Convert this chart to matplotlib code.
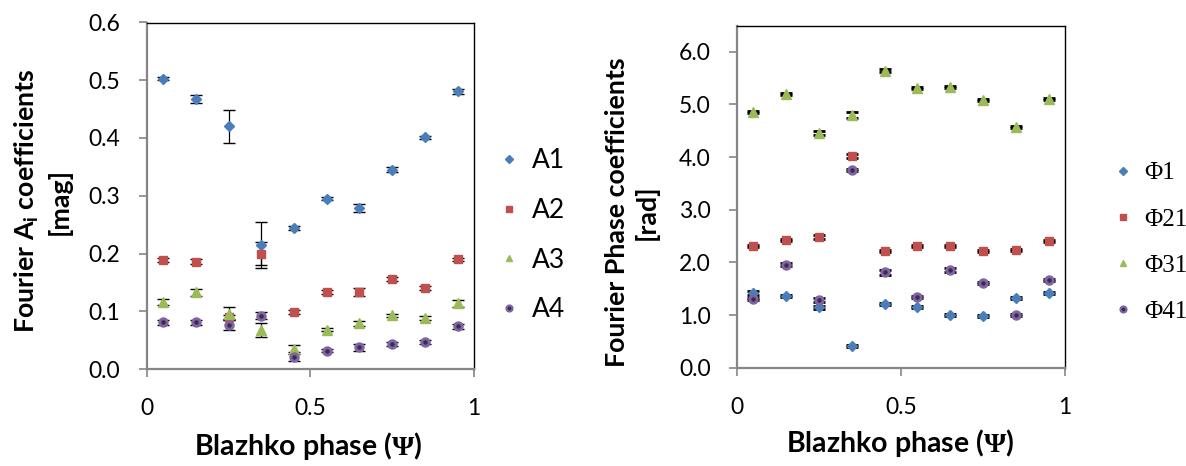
import matplotlib
matplotlib.use("Agg")
import matplotlib.pyplot as plt
import numpy as np
from matplotlib.ticker import FormatStrFormatter, FixedLocator
from matplotlib.legend_handler import HandlerTuple

plt.rcParams["font.family"] = ["Lato", "DejaVu Sans"]
plt.rcParams["mathtext.fontset"] = "custom"
plt.rcParams["mathtext.sf"] = "Lato:bold"
plt.rcParams["mathtext.bf"] = "Liberation Serif:bold"
plt.rcParams["mathtext.rm"] = "Liberation Serif"

# Blazhko phase bins
phase = [0.05, 0.15, 0.25, 0.35, 0.45, 0.55, 0.65, 0.75, 0.85, 0.95]

# Fourier amplitudes [mag] and errors
a1 = [0.503, 0.467, 0.420, 0.215, 0.244, 0.295, 0.278, 0.345, 0.401, 0.481]
a1_err = [0.003, 0.0066, 0.029, 0.040, 0.003, 0.003, 0.007, 0.004, 0.003, 0.004]
a2 = [0.189, 0.186, 0.090, 0.200, 0.099, 0.133, 0.133, 0.156, 0.140, 0.190]
a2_err = [0.003, 0.004, 0.003, 0.020, 0.004, 0.003, 0.0065, 0.003, 0.003, 0.003]
a3 = [0.116, 0.133, 0.096, 0.067, 0.035, 0.068, 0.079, 0.093, 0.088, 0.114]
a3_err = [0.0045, 0.006, 0.012, 0.012, 0.006, 0.003, 0.004, 0.003, 0.003, 0.006]
a4 = [0.081, 0.081, 0.076, 0.092, 0.020, 0.032, 0.038, 0.043, 0.047, 0.074]
a4_err = [0.004, 0.004, 0.008, 0.006, 0.0066, 0.003, 0.006, 0.003, 0.003, 0.004]

# Fourier phases [rad] and errors
p1 = [1.42, 1.36, 1.15, 0.41, 1.21, 1.15, 1.00, 0.98, 1.32, 1.42]
p1_err = [0.03, 0.02, 0.03, 0.02, 0.02, 0.02, 0.02, 0.02, 0.02, 0.02]
p21 = [2.32, 2.43, 2.49, 4.02, 2.22, 2.31, 2.32, 2.22, 2.23, 2.40]
p21_err = [0.02, 0.02, 0.04, 0.03, 0.02, 0.02, 0.02, 0.02, 0.02, 0.02]
p31 = [4.85, 5.20, 4.46, 4.80, 5.64, 5.31, 5.34, 5.09, 4.58, 5.11]
p31_err = [0.02, 0.02, 0.04, 0.05, 0.03, 0.02, 0.02, 0.02, 0.02, 0.02]
p41 = [1.31, 1.96, 1.29, 3.75, 1.81, 1.34, 1.86, 1.61, 1.00, 1.67]
p41_err = [0.02, 0.02, 0.04, 0.02, 0.04, 0.02, 0.04, 0.02, 0.02, 0.02]

blue = "#4a7ebb"
red = "#c0504d"
green = "#9bbb59"
purple = "#8064a2"
gray = "#868686"

fig = plt.figure(figsize=(11.86, 4.66), dpi=100)
W, H = 1186, 466


def box(x0, y0, x1, y1):
    return [x0 / W, 1 - y1 / H, (x1 - x0) / W, (y1 - y0) / H]


def draw(ax, series, cap_lw, cap_size):
    handles = []
    for vals, errs, marker, ms, col in series:
        ax.errorbar(phase, vals, yerr=errs, fmt="none", ecolor="black",
                    elinewidth=0.9, capsize=cap_size, capthick=cap_lw, zorder=2)
        h, = ax.plot(phase, vals, linestyle="none", marker=marker, ms=ms,
                     mfc=col, mec=col, zorder=3)
        if marker == "o":
            d, = ax.plot(phase, vals, linestyle="none", marker="o", ms=2.2,
                         mfc="#3a2c4c", mec="#3a2c4c", zorder=4)
            handles.append((h, d))
        else:
            handles.append(h)
    return handles


def style(ax, ymax, ystep, fmt):
    ax.set_xlim(0, 1)
    ax.set_ylim(0, ymax)
    ax.xaxis.set_major_locator(FixedLocator([0, 0.5, 1]))
    ax.set_xticklabels(["0", "0.5", "1"])
    ax.yaxis.set_major_locator(FixedLocator(np.arange(0, ymax + 1e-9, ystep)))
    ax.yaxis.set_major_formatter(FormatStrFormatter(fmt))
    for s in ["left", "bottom"]:
        ax.spines[s].set_color(gray)
        ax.spines[s].set_linewidth(1.6)
    for s in ["right", "top"]:
        ax.spines[s].set_color("black")
        ax.spines[s].set_linewidth(1.0)
    ax.tick_params(axis="both", direction="out", length=6, width=1.2,
                   color=gray, labelsize=16.5)
    ax.tick_params(axis="y", pad=13)
    ax.tick_params(axis="x", pad=15)


# left panel
ax1 = fig.add_axes(box(146.7, 22.5, 474, 369))
h1 = draw(ax1, [(a1, a1_err, "D", 5.0, blue), (a2, a2_err, "s", 6.0, red),
                (a3, a3_err, "^", 6.5, green), (a4, a4_err, "o", 6.5, purple)],
          1.0, 4.5)
style(ax1, 0.6, 0.1, "%.1f")
ax1.legend(h1, ["A1", "A2", "A3", "A4"], loc="upper left",
           bbox_to_anchor=(500 / W, 1 - 148 / H), bbox_transform=fig.transFigure,
           frameon=False, fontsize=19, handlelength=0.7, handletextpad=0.5,
           labelspacing=0.94, borderpad=0, borderaxespad=0, markerscale=0.75,
           handler_map={tuple: HandlerTuple(ndivide=1)})

# right panel
ax2 = fig.add_axes(box(737, 25.5, 1065, 367.7))
h2 = draw(ax2, [(p1, p1_err, "D", 5.0, blue), (p21, p21_err, "s", 6.0, red),
                (p31, p31_err, "^", 6.5, green), (p41, p41_err, "o", 6.5, purple)],
          2.0, 4.5)
style(ax2, 6.5, 1.0, "%.1f")
ax2.legend(h2, ["Φ1", "Φ21", "Φ31", "Φ41"], loc="upper left",
           bbox_to_anchor=(1114 / W, 1 - 162 / H), bbox_transform=fig.transFigure,
           frameon=False, prop={"family": "Liberation Serif", "size": 18},
           handlelength=0.7, handletextpad=0.5, labelspacing=0.95, borderpad=0,
           borderaxespad=0, markerscale=0.75,
           handler_map={tuple: HandlerTuple(ndivide=1)})

# axis titles
lab = dict(fontweight="bold", ha="center", va="center")
fig.text(308 / W, 1 - 446 / H, r"Blazhko phase ($\mathbf{\Psi}$)", fontsize=20.5, **lab)
fig.text(900 / W, 1 - 443 / H, r"Blazhko phase ($\mathbf{\Psi}$)", fontsize=20.5, **lab)
fig.text(42 / W, 1 - 201 / H, "Fourier $\\mathsf{A}_{\\mathsf{i}}$ coefficients\n[mag]",
         fontsize=19.3, rotation=90, multialignment="center", linespacing=1.25, **lab)
fig.text(632 / W, 1 - 212 / H, "Fourier Phase coefficients\n[rad]",
         fontsize=19.3, rotation=90, multialignment="center", linespacing=1.25, **lab)

fig.savefig("out.png", dpi=100)
